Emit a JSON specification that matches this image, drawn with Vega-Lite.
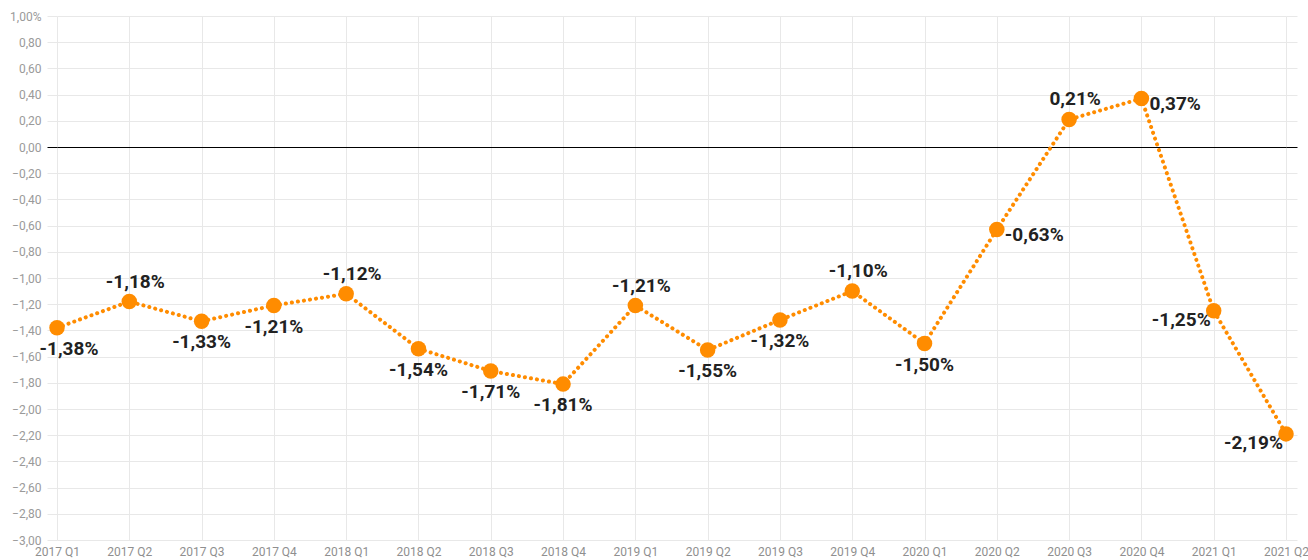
{
  "$schema": "https://vega.github.io/schema/vega-lite/v6.json",
  "autosize": "none",
  "padding": {"left": 57, "top": 16, "right": 22, "bottom": 20},
  "width": 1229,
  "height": 524,
  "background": "white",
  "config": {"view": {"stroke": null}, "font": "Roboto"},
  "data": {"values": [
    {"q": "2017 Q1", "v": -1.38},
    {"q": "2017 Q2", "v": -1.18},
    {"q": "2017 Q3", "v": -1.33},
    {"q": "2017 Q4", "v": -1.21},
    {"q": "2018 Q1", "v": -1.12},
    {"q": "2018 Q2", "v": -1.54},
    {"q": "2018 Q3", "v": -1.71},
    {"q": "2018 Q4", "v": -1.81},
    {"q": "2019 Q1", "v": -1.21},
    {"q": "2019 Q2", "v": -1.55},
    {"q": "2019 Q3", "v": -1.32},
    {"q": "2019 Q4", "v": -1.10},
    {"q": "2020 Q1", "v": -1.50},
    {"q": "2020 Q2", "v": -0.63},
    {"q": "2020 Q3", "v": 0.21},
    {"q": "2020 Q4", "v": 0.37},
    {"q": "2021 Q1", "v": -1.25},
    {"q": "2021 Q2", "v": -2.19}
  ]},
  "transform": [
    {"calculate": "replace(replace(format(datum.v, '.2f'), '.', ','), '\u2212', '-') + '%'", "as": "label"}
  ],
  "encoding": {
    "x": {
      "field": "q", "type": "ordinal", "sort": null,
      "scale": {"type": "point", "padding": 0},
      "axis": {
        "title": null, "labelAngle": 0, "domain": false, "ticks": false,
        "grid": true, "gridColor": "#e8e8e8", "gridWidth": 1,
        "labelFont": "Roboto", "labelFontSize": 12, "labelColor": "#8f8f8f",
        "labelPadding": 6, "labelOverlap": false, "labelFlush": false
      }
    }
  },
  "layer": [
    {
      "mark": {"type": "line", "color": "#FF8C00", "strokeWidth": 4, "strokeDash": [0.1, 6], "strokeCap": "round"},
      "encoding": {
        "y": {
          "field": "v", "type": "quantitative",
          "scale": {"domain": [-3, 1], "nice": false, "zero": false},
          "axis": {
            "title": null, "orient": "left", "domain": false,
            "values": [-3, -2.8, -2.6, -2.4, -2.2, -2, -1.8, -1.6, -1.4, -1.2, -1, -0.8, -0.6, -0.4, -0.2, 0, 0.2, 0.4, 0.6, 0.8, 1],
            "labelExpr": "datum.value == 1 ? '1,00%' : replace(format(datum.value, '.2f'), '.', ',')",
            "grid": true,
            "gridColor": {"condition": {"test": "abs(datum.value) < 1e-9", "value": "#000000"}, "value": "#e8e8e8"},
            "gridWidth": 1,
            "ticks": true, "tickSize": 10,
            "tickColor": {"condition": {"test": "abs(datum.value) < 1e-9", "value": "#000000"}, "value": "#e8e8e8"},
            "labelPadding": 6, "labelFont": "Roboto", "labelFontSize": 12, "labelColor": "#9a9a9a",
            "labelFlush": false, "labelOverlap": false
          }
        }
      }
    },
    {
      "mark": {"type": "circle", "color": "#FF8C00", "opacity": 1, "size": 240},
      "encoding": {
        "y": {
          "field": "v", "type": "quantitative",
          "scale": {"domain": [-3, 1], "nice": false, "zero": false},
          "axis": {
            "title": null, "orient": "right", "domain": false, "labels": false, "grid": false,
            "values": [-3, -2.8, -2.6, -2.4, -2.2, -2, -1.8, -1.6, -1.4, -1.2, -1, -0.8, -0.6, -0.4, -0.2, 0, 0.2, 0.4, 0.6, 0.8, 1],
            "ticks": true, "tickSize": 11,
            "tickColor": {"condition": {"test": "abs(datum.value) < 1e-9", "value": "#000000"}, "value": "#e8e8e8"}
          }
        }
      }
    },
    {
      "transform": [{"filter": "indexof(['2017 Q2','2018 Q1','2019 Q1','2019 Q4','2020 Q3'], datum.q) >= 0"}],
      "mark": {"type": "text", "fontWeight": "bold", "fontSize": 19, "color": "#222222", "align": "center", "baseline": "middle", "dx": 6, "dy": -20},
      "encoding": {"y": {"field": "v", "type": "quantitative", "axis": null}, "text": {"field": "label"}}
    },
    {
      "transform": [{"filter": "indexof(['2017 Q3','2017 Q4','2018 Q2','2018 Q3','2018 Q4','2019 Q2','2019 Q3','2020 Q1'], datum.q) >= 0"}],
      "mark": {"type": "text", "fontWeight": "bold", "fontSize": 19, "color": "#222222", "align": "center", "baseline": "middle", "dx": 0, "dy": 21},
      "encoding": {"y": {"field": "v", "type": "quantitative", "axis": null}, "text": {"field": "label"}}
    },
    {
      "transform": [{"filter": "datum.q == '2017 Q1'"}],
      "mark": {"type": "text", "fontWeight": "bold", "fontSize": 19, "color": "#222222", "align": "center", "baseline": "middle", "dx": 12, "dy": 21},
      "encoding": {"y": {"field": "v", "type": "quantitative", "axis": null}, "text": {"field": "label"}}
    },
    {
      "transform": [{"filter": "indexof(['2020 Q2','2020 Q4'], datum.q) >= 0"}],
      "mark": {"type": "text", "fontWeight": "bold", "fontSize": 19, "color": "#222222", "align": "left", "baseline": "middle", "dx": 8, "dy": 5},
      "encoding": {"y": {"field": "v", "type": "quantitative", "axis": null}, "text": {"field": "label"}}
    },
    {
      "transform": [{"filter": "indexof(['2021 Q1','2021 Q2'], datum.q) >= 0"}],
      "mark": {"type": "text", "fontWeight": "bold", "fontSize": 19, "color": "#222222", "align": "right", "baseline": "middle", "dx": -3, "dy": 9},
      "encoding": {"y": {"field": "v", "type": "quantitative", "axis": null}, "text": {"field": "label"}}
    }
  ],
  "resolve": {"axis": {"y": "independent"}}
}
